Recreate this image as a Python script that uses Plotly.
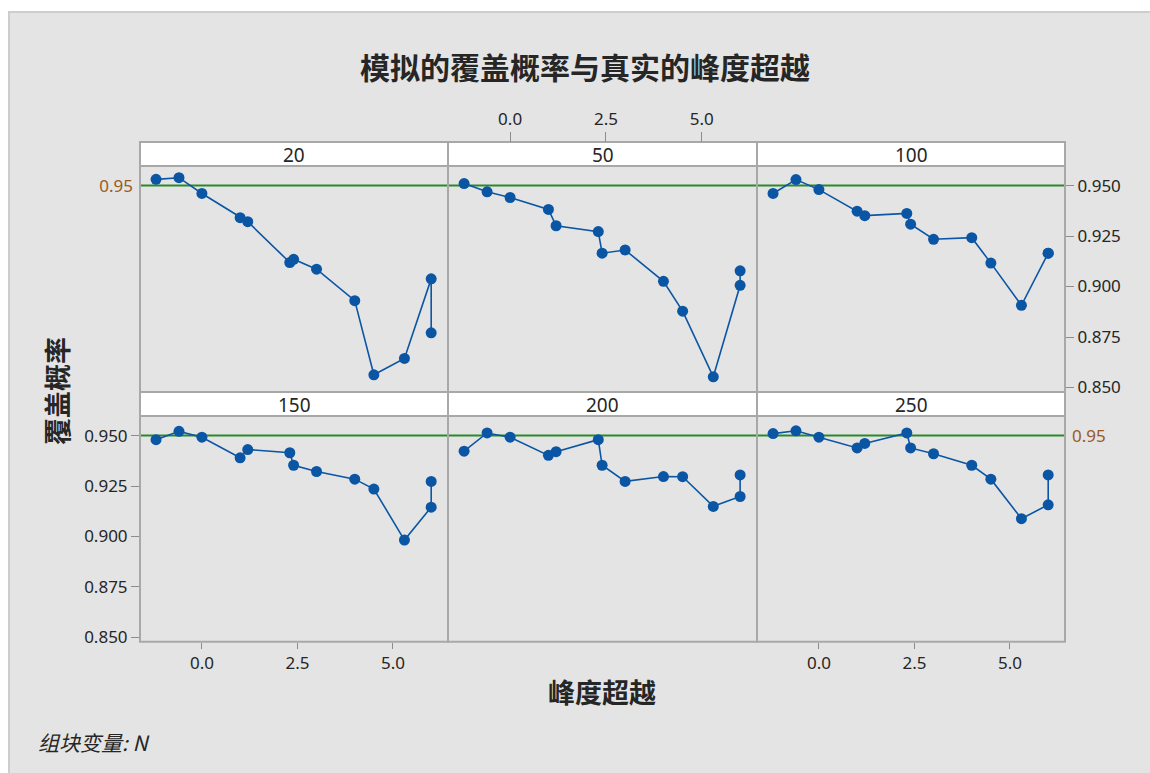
import plotly.graph_objects as go

# Excess kurtosis of the generating distributions (shared by every panel)
kurt_x = [-1.2, -0.6, 0.0, 1.0, 1.2, 2.3, 2.4, 3.0, 4.0, 4.5, 5.3, 6.0, 6.0]

# Simulated coverage probability for each sample size N
cov_n20 = [0.9531, 0.9539, 0.9461, 0.9341, 0.9321, 0.9119, 0.9135, 0.9086, 0.8930, 0.8563, 0.8644, 0.9038, 0.8771]
cov_n50 = [0.9510, 0.9469, 0.9441, 0.9382, 0.9301, 0.9272, 0.9165, 0.9181, 0.9026, 0.8878, 0.8553, 0.9006, 0.9078]
cov_n100 = [0.9461, 0.9530, 0.9480, 0.9373, 0.9351, 0.9362, 0.9309, 0.9234, 0.9242, 0.9116, 0.8907, 0.9165, 0.9165]
cov_n150 = [0.9480, 0.9521, 0.9492, 0.9390, 0.9431, 0.9415, 0.9353, 0.9322, 0.9284, 0.9235, 0.8982, 0.9145, 0.9273]
cov_n200 = [0.9423, 0.9513, 0.9492, 0.9402, 0.9420, 0.9480, 0.9353, 0.9273, 0.9297, 0.9296, 0.9149, 0.9198, 0.9305]
cov_n250 = [0.9510, 0.9524, 0.9492, 0.9439, 0.9461, 0.9513, 0.9439, 0.9410, 0.9353, 0.9284, 0.9088, 0.9157, 0.9305]

panel_labels = ["20", "50", "100", "150", "200", "250"]
panel_series = [cov_n20, cov_n50, cov_n100, cov_n150, cov_n200, cov_n250]

target_level = 0.95
x_tick_vals = [0.0, 2.5, 5.0]
x_tick_text = ["0.0", "2.5", "5.0"]
y_tick_vals = [0.85, 0.875, 0.90, 0.925, 0.95]
y_tick_text = ["0.850", "0.875", "0.900", "0.925", "0.950"]

W, H = 1150, 773
BLUE = "#0B56A4"
GREEN = "#2A8A2A"
BROWN = "#9A5A1E"
FRAME = "#A8A8A8"
TXT = "#262626"
NUM_FONT = "Noto Sans, Open Sans, sans-serif"
CJK_FONT = "Noto Sans CJK SC, sans-serif"
TICK_SIZE = 17


def px(x):
    return x / W


def py(y):
    return 1 - y / H


col_edges = [(140, 448), (448, 757), (757, 1065)]
row_edges = [(167.3, 395.0), (419.3, 646.7)]
strip_edges = [(143.0, 167.3), (395.0, 419.3)]

x_range = [-1.62, 6.44]
y_range = [0.8478, 0.9597]

fig = go.Figure()
shapes = []
annotations = []

# outer grey canvas
shapes.append(dict(type="rect", xref="paper", yref="paper", layer="below",
                   x0=px(9), x1=1.02, y0=-0.02, y1=py(12),
                   fillcolor="#E4E4E4", line=dict(color="#CDCDCD", width=2)))

layout_axes = {}
for i, (label, vals) in enumerate(zip(panel_labels, panel_series)):
    r, c = divmod(i, 3)
    n = i + 1
    xa = "x" if n == 1 else f"x{n}"
    ya = "y" if n == 1 else f"y{n}"
    xkey = "xaxis" if n == 1 else f"xaxis{n}"
    ykey = "yaxis" if n == 1 else f"yaxis{n}"
    cx0, cx1 = col_edges[c]
    ry0, ry1 = row_edges[r]
    sy0, sy1 = strip_edges[r]

    fig.add_trace(go.Scatter(
        x=kurt_x, y=vals, xaxis=xa, yaxis=ya, mode="lines+markers",
        line=dict(color=BLUE, width=1.6),
        marker=dict(color=BLUE, size=11, symbol="circle"),
        showlegend=False, hoverinfo="x+y"))

    xax = dict(domain=[px(cx0), px(cx1)], anchor=ya, range=x_range,
               showgrid=False, zeroline=False, showline=False,
               tickvals=x_tick_vals, ticktext=x_tick_text,
               showticklabels=False, ticks="",
               tickfont=dict(family=NUM_FONT, size=TICK_SIZE, color=TXT))
    yax = dict(domain=[py(ry1), py(ry0)], anchor=xa, range=y_range,
               showgrid=False, zeroline=False, showline=False,
               showticklabels=False, ticks="",
               tickfont=dict(family=NUM_FONT, size=TICK_SIZE, color=TXT))

    # bottom axis under panels 150 and 250, top axis above panel 50
    if n in (4, 6):
        xax.update(showticklabels=True, ticks="outside", ticklen=6,
                   tickcolor="#8C8C8C", tickwidth=1, side="bottom")
    if n == 2:
        xax.update(showticklabels=True, ticks="outside", ticklen=10,
                   tickcolor="#8C8C8C", tickwidth=1, side="top",
                   anchor="free", position=py(143))

    # alternating y axes
    if n == 3:
        yax.update(side="right", showticklabels=True, ticks="outside",
                   ticklen=8, tickcolor="#8C8C8C", tickwidth=1,
                   tickvals=y_tick_vals, ticktext=y_tick_text)
    if n == 4:
        yax.update(side="left", showticklabels=True, ticks="outside",
                   ticklen=8, tickcolor="#8C8C8C", tickwidth=1,
                   tickvals=y_tick_vals, ticktext=y_tick_text)
    if n in (1, 6):
        yax.update(side="left" if n == 1 else "right", showticklabels=True,
                   tickvals=[target_level], ticktext=["0.95"],
                   tickfont=dict(family=NUM_FONT, size=TICK_SIZE, color=BROWN),
                   ticklabelstandoff=6)

    layout_axes[xkey] = xax
    layout_axes[ykey] = yax

    # target coverage reference line
    shapes.append(dict(type="line", xref=f"{xa} domain", yref=ya,
                       x0=0, x1=1, y0=target_level, y1=target_level,
                       line=dict(color=GREEN, width=2), layer="below"))

    # panel frame
    shapes.append(dict(type="rect", xref="paper", yref="paper",
                       x0=px(cx0), x1=px(cx1), y0=py(ry1), y1=py(ry0),
                       line=dict(color=FRAME, width=2), layer="above"))
    # strip header
    shapes.append(dict(type="rect", xref="paper", yref="paper",
                       x0=px(cx0), x1=px(cx1), y0=py(sy1), y1=py(sy0),
                       fillcolor="white", line=dict(color=FRAME, width=2),
                       layer="below"))
    annotations.append(dict(xref="paper", yref="paper",
                            x=px((cx0 + cx1) / 2), y=py((sy0 + sy1) / 2 + 1),
                            text=label, showarrow=False,
                            xanchor="center", yanchor="middle",
                            font=dict(family=NUM_FONT, size=19, color=TXT)))

annotations += [
    dict(xref="paper", yref="paper", x=px(585), y=py(67),
         text="<b>模拟的覆盖概率与真实的峰度超越</b>", showarrow=False,
         xanchor="center", yanchor="middle",
         font=dict(family=CJK_FONT, size=30, color=TXT)),
    dict(xref="paper", yref="paper", x=px(602), y=py(697),
         text="<b>峰度超越</b>", showarrow=False,
         xanchor="center", yanchor="middle",
         font=dict(family=CJK_FONT, size=27, color=TXT)),
    dict(xref="paper", yref="paper", x=px(57), y=py(394),
         text="<b>覆盖概率</b>", showarrow=False, textangle=-90,
         xanchor="center", yanchor="middle",
         font=dict(family=CJK_FONT, size=27, color=TXT)),
    dict(xref="paper", yref="paper", x=px(36), y=py(748),
         text="<i>组块变量: N</i>", showarrow=False,
         xanchor="left", yanchor="middle",
         font=dict(family=CJK_FONT, size=21, color=TXT)),
]

fig.update_layout(
    width=W, height=H, autosize=False,
    margin=dict(l=0, r=0, t=0, b=0),
    paper_bgcolor="white", plot_bgcolor="white",
    shapes=shapes, annotations=annotations,
    **layout_axes,
)

fig.write_html("out.html")
